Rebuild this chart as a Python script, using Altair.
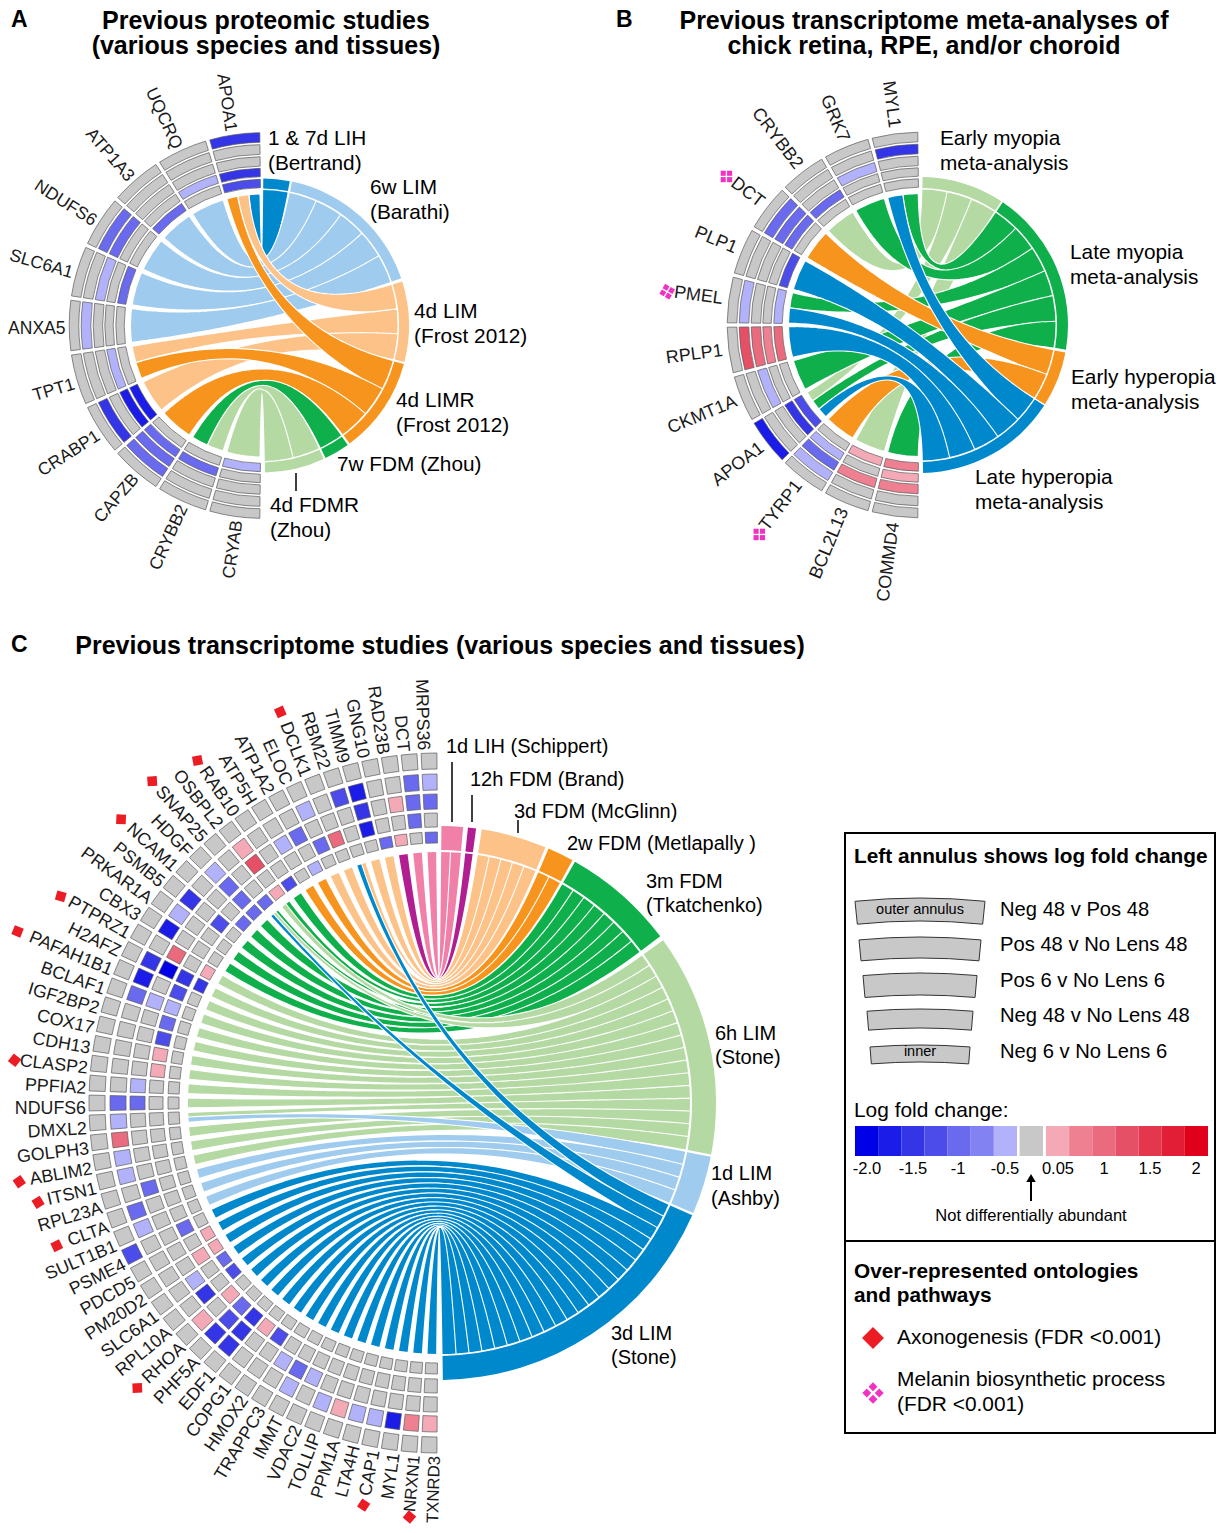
import math
import altair as alt
import pandas as pd

FONT = "Liberation Sans"

# ---- colour key: level -7..7 -------------------------------------------------
LEVEL_COLORS = {-7: "#0000e6", -6: "#1c1ce8", -5: "#3535e8", -4: "#4c4cea", -3: "#6a6aee", -2: "#8282f2", -1: "#b2b2fa",
                0: "#c8c8c8", 1: "#f4aab6", 2: "#ee8092", 3: "#ea6b7e", 4: "#e65066", 5: "#e4364c", 6: "#e21e36", 7: "#e0001c"}
BLUE, LBLUE, PEACH, ORANGE = "#0088cc", "#9fcbee", "#fdc288", "#f7941d"
GREEN, LGREEN, PINK, MAGENTA = "#0fb04b", "#b4d9a2", "#f180a8", "#b01e91"

# ---- panel A ------------------------------------------------------------------
A_genes = ["APOA1", "UQCRQ", "ATP1A3", "NDUFS6", "SLC6A1", "ANXA5", "TPT1", "CRABP1", "CAPZB", "CRYBB2", "CRYAB"]
A_levels = [[-5, 0, 0, -5, -4], [0, 0, 0, -1, 0], [0, 0, 0, 0, -3], [0, -3, -3, 0, 0], [0, 0, -1, 0, -3], [0, -1, 0, 0, 0],
            [0, 0, 0, -1, 0], [0, -5, 0, -6, -6], [0, -3, -3, -3, 0], [0, 0, 0, -3, 0], [0, 0, 0, 0, -1]]
A_links = [[0, 2, 3], [1], [1], [1], [1], [1], [2, 3], [2], [3], [4, 5], [5]]
A_study_colors = [BLUE, LBLUE, PEACH, ORANGE, GREEN, LGREEN]
A_study_spans = [(0.5, 10.9), (11.8, 71.3), (72.6, 104.4), (105.2, 143.4), (144.3, 154.4), (155.2, 178.8)]

# ---- panel B ------------------------------------------------------------------
B_genes = ["MYL1", "GRK7", "CRYBB2", "DCT", "PLP1", "PMEL", "RPLP1", "CKMT1A", "APOA1", "TYRP1", "BCL2L13", "COMMD4"]
B_levels = [[0, -5, 0, 0, 0], [0, 0, -1, 0, 0], [0, 0, 0, -3, 0], [0, -3, -3, -3, 0], [0, 0, 0, 0, -4], [0, -1, 0, 0, -1],
            [0, 4, 3, 2, 3], [0, 0, -1, 0, 0], [-6, 0, 0, -5, -4], [0, -1, -3, -1, 0], [0, 0, 2, 0, 1], [0, 0, 2, 1, 2]]
B_links = [[1, 3], [1], [0], [2], [3], [1, 3], [3], [1], [0, 1, 3], [2], [0], [1]]
B_study_colors = [LGREEN, GREEN, ORANGE, BLUE]
B_study_spans = [(1.0, 33.3), (34.0, 99.6), (100.7, 122.4), (123.0, 178.8)]

# ---- panel C ------------------------------------------------------------------
C_genes = ["MRPS36", "DCT", "RAD23B", "GNG10", "TIMM9", "RBM22", "DCLK1", "ELOC", "ATP1A2", "ATP5H", "RAB10", "OSBPL2",
           "SNAP25", "HDGF", "NCAM1", "PSMB5", "PRKAR1A", "CBX3", "PTPRZ1", "H2AFZ", "PAFAH1B1", "BCLAF1", "IGF2BP2",
           "COX17", "CDH13", "CLASP2", "PPFIA2", "NDUFS6", "DMXL2", "GOLPH3", "ABLIM2", "ITSN1", "RPL23A", "CLTA",
           "SULT1B1", "PSME4", "PDCD5", "PM20D2", "SLC6A1", "RPL10A", "RHOA", "PHF5A", "EDF1", "COPG1", "HMOX2",
           "TRAPPC3", "IMMT", "VDAC2", "TOLLIP", "PPM1A", "LTA4H", "CAP1", "MYL1", "NRXN1", "TXNRD3"]
C_levels = [[0, -1, -3, 0, -3], [0, -3, -3, -3, 0], [0, 0, 1, 0, 1], [0, 0, 0, 0, -3], [0, -6, -5, -6, 0], [0, -4, 0, 0, 0],
            [0, 0, 0, 3, 0], [0, -1, 0, -3, 0], [0, 0, -3, 0, -1], [0, 0, -1, 0, 0], [0, 0, 0, 0, -4], [0, 1, 4, 0, 1],
            [0, 0, 0, 0, -3], [0, -1, -3, -3, -3], [0, 0, 0, 0, -3], [0, -5, 0, -4, 0], [0, -1, 0, 0, 0], [0, -6, 0, 0, 0],
            [0, 0, 3, 0, 1], [0, -5, -7, -5, -5], [0, -6, 0, -4, 0], [0, -3, -1, -1, 0], [0, 0, 0, -3, 0], [0, 0, 0, -4, 0],
            [0, 0, 0, 1, 0], [0, 0, 0, 1, 0], [0, 0, -1, 0, 0], [0, -3, -3, 0, 0], [0, -1, 0, 0, 0], [0, 3, 0, 0, 0],
            [0, -1, 0, 0, 0], [0, -1, 0, 0, 0], [0, 0, -3, 0, 0], [0, -3, 0, 0, 0], [0, -1, 0, 0, 0], [-4, 0, 0, -3, 0],
            [0, 0, 0, 0, 1], [0, 0, 0, 1, 1], [0, 0, -1, 0, -3], [0, 0, -5, 0, -4], [0, 1, 0, 1, 0], [0, -5, -4, -3, 0],
            [0, -5, -5, -5, 0], [0, 0, 0, 1, 0], [0, 0, 0, -4, 0], [0, 0, -1, 0, 0], [0, -1, -3, 0, 0], [0, 0, -1, 0, 0],
            [0, -1, 0, 0, 0], [0, 1, 0, 0, 0], [0, -1, 0, 0, 0], [0, -1, 0, 0, 0], [0, -6, 0, 0, 0], [0, 2, 0, 0, 0],
            [0, 1, 0, 0, 0]]
C_links = [[0], [0], [1], [2], [2], [2, 7], [2], [2], [3], [3], [4], [4, 5], [4, 5, 7], [4], [4], [4], [4], [4]] + \
          [[5]] * 10 + [[5, 6]] + [[5]] * 3 + [[6]] * 3 + [[7]] * 20
C_study_colors = [PINK, MAGENTA, PEACH, ORANGE, GREEN, LGREEN, LBLUE, BLUE]
C_study_spans = [(0.5, 5.0), (6.0, 7.7), (8.9, 22.6), (23.3, 28.8), (29.4, 53.0), (54.0, 100.7), (101.2, 113.4), (113.9, 179.2)]

# ---- markers (gene index, distance from centre) -------------------------------
C_axon = [(6, 422), (10, 419), (12, 431), (14, 426), (18, 431), (20, 455), (25, 426.5), (30, 427), (31, 413), (33, 408),
          (40, 415), (51, 409), (53, 415)]
B_melanin = [(3, 244), (5, 255), (9, 264)]

# ---- text rows: x, y, text ----------------------------------------------------
LETTERS = [(11, 20, "A"), (616, 20, "B"), (11, 645, "C")]
CENTER_TITLES = [(266, 20.5, "Previous proteomic studies"), (266, 45.5, "(various species and tissues)"),
                 (924, 20.5, "Previous transcriptome meta-analyses of"), (924, 45.5, "chick retina, RPE, and/or choroid"),
                 (440, 646, "Previous transcriptome studies (various species and tissues)")]
BOLD_LEFT = [(854, 857, "Left annulus shows log fold change"), (854, 1272, "Over-represented ontologies"),
             (854, 1296, "and pathways")]
PANEL_AB_LABELS = [(268, 139, "1 & 7d LIH"), (268, 164, "(Bertrand)"), (370, 188, "6w LIM"), (370, 213, "(Barathi)"),
             (414, 312, "4d LIM"), (414, 337, "(Frost 2012)"), (396, 401, "4d LIMR"), (396, 426, "(Frost 2012)"),
             (337, 465, "7w FDM (Zhou)"), (270, 506, "4d FDMR"), (270, 531, "(Zhou)"),
             (940, 139, "Early myopia"), (940, 164, "meta-analysis"), (1070, 253, "Late myopia"), (1070, 278, "meta-analysis"),
             (1071, 378, "Early hyperopia"), (1071, 403, "meta-analysis"), (975, 478, "Late hyperopia"), (975, 503, "meta-analysis")]
PANEL_C_LABELS = [(446, 747, "1d LIH (Schippert)"), (470, 780, "12h FDM (Brand)"), (514, 812, "3d FDM (McGlinn)"),
             (567, 844, "2w FDM (Metlapally )"), (646, 882, "3m FDM"), (646, 906, "(Tkatchenko)"),
             (715, 1034, "6h LIM"), (715, 1058, "(Stone)"), (711, 1174, "1d LIM"), (711, 1199, "(Ashby)"),
             (611, 1334, "3d LIM"), (611, 1358, "(Stone)")]
KEY_LABELS = [(1000, 910, "Neg 48 v Pos 48"), (1000, 945, "Pos 48 v No Lens 48"), (1000, 981, "Pos 6 v No Lens 6"),
             (1000, 1016, "Neg 48 v No Lens 48"), (1000, 1052, "Neg 6 v No Lens 6")]
ONTOLOGY_LABELS = [(854, 1111, "Log fold change:"), (897, 1338, "Axonogenesis (FDR <0.001)"),
             (897, 1380, "Melanin biosynthetic process"), (897, 1405, "(FDR <0.001)")]
TICK_TEXT = [(867, "-2.0"), (913, "-1.5"), (958, "-1"), (1005, "-0.5"), (1058, "0.05"), (1104, "1"), (1150, "1.5"), (1196, "2")]
SMALL_CENTER = [(920, 910, "outer annulus"), (920, 1052, "inner")]
NOTE_TEXT = [(1031, 1216, "Not differentially abundant")]
LEADERS = [(296, 473, 491), (452, 762, 822), (472, 795, 822), (518, 820, 833)]
SWATCHES = [(898, 23, 65), (937, 21, 61), (973, 22, 57), (1009, 19, 53), (1045, 17, 50)]
BOXES = [(845, 833, 1215, 1241), (845, 1241, 1215, 1433)]

# ---- panel geometry ------------------------------------------------------------
PANELS = [
    dict(genes=A_genes, levels=A_levels, links=A_links, scol=A_study_colors, span=A_study_spans, cx=262, cy=325.5,
         rings=[(192.8, 183.2), (180.8, 171.2), (168.8, 159.4), (157.2, 148.8), (146.2, 137.8)], band=(137, 147), rg=131, rs=135.5,
         gap=2.2, split=0.6, cellgap=1.3, lab=196.5, fs=17.5, shift=3.5),
    dict(genes=B_genes, levels=B_levels, links=B_links, scol=B_study_colors, span=B_study_spans, cx=920, cy=325,
         rings=[(192.8, 183.2), (180.8, 171.2), (168.8, 159.4), (157.2, 148.8), (146.2, 137.8)], band=(137, 148), rg=131, rs=135.5,
         gap=2.0, split=0.5, cellgap=1.3, lab=199, fs=18, shift=0),
    dict(genes=C_genes, levels=C_levels, links=C_links, scol=C_study_colors, span=C_study_spans, cx=439, cy=1103,
         rings=[(350, 334), (329, 313), (309, 294), (290, 276), (271, 260)], band=(253, 277), rg=251, rs=251,
         gap=1.3, split=0.12, cellgap=0.68, lab=353, fs=17.8, shift=6),
]
TIGHT_LABELS = {"NRXN1": 16.8, "TXNRD3": 16.8}


def pt(p, phi, r):
    a = math.radians(phi)
    return p["cx"] + r * math.sin(a), p["cy"] - r * math.cos(a)


def label_pt(p, th, r):
    x, y = pt(p, -th, r)
    a = math.radians(th)
    return x - p["shift"] * math.cos(a), y + p["shift"] * math.sin(a)


def bez(p0, p2, c, t):
    return ((1 - t) ** 2 * p0[0] + 2 * t * (1 - t) * c[0] + t * t * p2[0],
            (1 - t) ** 2 * p0[1] + 2 * t * (1 - t) * c[1] + t * t * p2[1])


trail_rows, band_rows, cell_rows, mask_rows, gene_text = [], [], [], [], []
cid = 0
for pi, p in enumerate(PANELS):
    n = len(p["genes"])
    w = 180.0 / n
    parts = []
    for s in range(len(p["scol"])):
        parts.append([])
    gene_parts = {}
    for g, links in enumerate(p["links"]):
        a = g * w + p["gap"] / 2
        b = (g + 1) * w - p["gap"] / 2
        k = len(links)
        each = (b - a - p["split"] * (k - 1)) / k
        for j, s in enumerate(links):
            a0 = a + j * (each + p["split"])
            gene_parts[(g, s)] = (a0, a0 + each)
            parts[s].append(g)
    c = (p["cx"], p["cy"])
    for s, gs in enumerate(parts):
        sa, sb = p["span"][s]
        sw = (sb - sa) / len(gs)
        band_rows.append(dict(x=p["cx"], y=p["cy"], t0=math.radians(sa), t1=math.radians(sb), r0=p["band"][1], r1=p["band"][0], c=p["scol"][s]))
        for q, g in enumerate(gs):
            a0, a1 = gene_parts[(g, s)]
            b0, b1 = sa + q * sw, sa + (q + 1) * sw
            P1, Q1 = pt(p, -a0, p["rg"]), pt(p, b0, p["rs"])
            P2, Q2 = pt(p, -a1, p["rg"]), pt(p, b1, p["rs"])
            pts = []
            N = 44
            for i in range(N + 1):
                t = i / N
                e1, e2 = bez(P1, Q1, c, t), bez(P2, Q2, c, t)
                mx, my = (e1[0] + e2[0]) / 2, (e1[1] + e2[1]) / 2
                dt = 0.002
                ta = bez(P1, Q1, c, min(t + dt, 1)), bez(P2, Q2, c, min(t + dt, 1))
                tb = bez(P1, Q1, c, max(t - dt, 0)), bez(P2, Q2, c, max(t - dt, 0))
                tx = (ta[0][0] + ta[1][0] - tb[0][0] - tb[1][0])
                ty = (ta[0][1] + ta[1][1] - tb[0][1] - tb[1][1])
                L = math.hypot(tx, ty) or 1
                ddx, ddy = e1[0] - e2[0], e1[1] - e2[1]
                pts.append((mx, my, abs(ddx * ty - ddy * tx) / L))
            wa, wb = pts[0][2], pts[-1][2]
            s0 = pt(p, -(a0 + a1) / 2, p["rg"] + wa / 2 + 3)
            s1 = pt(p, (b0 + b1) / 2, p["rs"] + wb / 2 + 3)
            pts = [(s0[0], s0[1], wa)] + pts + [(s1[0], s1[1], wb)]
            halo = 2.2
            for kind, col, add in (("h", "#ffffff", halo), ("c", p["scol"][s], 0)):
                for k, (x, y, sz) in enumerate(pts):
                    trail_rows.append(dict(x=x, y=y, w=sz + add, c=col, id=f"{cid:04d}{kind}", k=k))
                cid += 1
    # white ring that trims the chord ends
    mask_rows.append(dict(x=p["cx"], y=p["cy"], t0=math.radians(-1), t1=math.radians(181), r0=p["rs"] + 46, r1=p["rs"], c="#ffffff"))
    mask_rows.append(dict(x=p["cx"], y=p["cy"], t0=math.radians(180), t1=math.radians(360), r0=p["rg"] + 46, r1=p["rg"], c="#ffffff"))
    for g, name in enumerate(p["genes"]):
        th0, th1 = g * w + p["cellgap"] / 2, (g + 1) * w - p["cellgap"] / 2
        for ring, lev in zip(p["rings"], p["levels"][g]):
            cell_rows.append(dict(x=p["cx"], y=p["cy"], t0=math.radians(360 - th1), t1=math.radians(360 - th0),
                                  r0=ring[0], r1=ring[1], c=LEVEL_COLORS[lev]))
        mid = (g + .5) * w
        lx, ly = label_pt(p, mid, p["lab"])
        fs = TIGHT_LABELS.get(name, p["fs"]) if pi == 2 else p["fs"]
        gene_text.append(dict(x=lx, y=ly, text=name, angle=(90 - mid) % 360, fs=fs))

xs = alt.Scale(domain=[8, 1216], range=[0, 1208], nice=False, zero=False)
ys = alt.Scale(domain=[8, 1525], range=[0, 1517], nice=False, zero=False)
X = alt.X("x:Q", scale=xs, axis=None)
Y = alt.Y("y:Q", scale=ys, axis=None)
FILL = alt.Color("c:N", scale=None, legend=None)


def arcs(rows, **mk):
    return alt.Chart(pd.DataFrame(rows)).mark_arc(**mk).encode(
        x=X, y=Y, theta=alt.Theta("t0:Q", scale=None), theta2="t1:Q",
        radius=alt.Radius("r0:Q", scale=None), radius2="r1:Q", color=FILL)


def texts(rows, size, align="left", bold=False, color="#000000"):
    df = pd.DataFrame(rows, columns=["x", "y", "text"])
    return alt.Chart(df).mark_text(font=FONT, fontSize=size, align=align, baseline="middle",
                                   fontWeight="bold" if bold else "normal", color=color).encode(x=X, y=Y, text="text:N")


layers = []
layers.append(alt.Chart(pd.DataFrame(trail_rows)).mark_trail().encode(
    x=X, y=Y, size=alt.Size("w:Q", scale=None, legend=None), color=FILL, detail="id:N", order="k:Q"))
layers.append(arcs(mask_rows))
layers.append(arcs(band_rows))
layers.append(arcs(cell_rows, stroke="#5a5a5a", strokeWidth=0.7))

# legend annulus swatches
R = 640
sw_rows = []
for top, h, hw in SWATCHES:
    da = math.asin(hw / R)
    sw_rows.append(dict(x=920, y=top + R, t0=2 * math.pi - da, t1=2 * math.pi + da, r0=R, r1=R - h, c="#c8c8c8"))
layers.append(arcs(sw_rows, stroke="#333333", strokeWidth=1))

# colour bar
bar_rows = []
x0 = 855.0
cw = 23.14
for i, lev in enumerate(range(-7, 0)):
    bar_rows.append(dict(x=x0 + i * cw, x2=x0 + (i + 1) * cw, c=LEVEL_COLORS[lev]))
bar_rows.append(dict(x=1019.6, x2=1043, c=LEVEL_COLORS[0]))
x0 = 1046.0
for i, lev in enumerate(range(1, 8)):
    bar_rows.append(dict(x=x0 + i * cw, x2=x0 + (i + 1) * cw, c=LEVEL_COLORS[lev]))
bar = pd.DataFrame(bar_rows)
bar["y"], bar["y2"] = 1126, 1156
layers.append(alt.Chart(bar).mark_rect().encode(x=X, x2="x2:Q", y=Y, y2="y2:Q", color=FILL))

# gene labels
layers.append(alt.Chart(pd.DataFrame(gene_text)).mark_text(font=FONT, align="right", baseline="middle", color="#1a1a1a").encode(
    x=X, y=Y, text="text:N", angle=alt.Angle("angle:Q", scale=None), size=alt.Size("fs:Q", scale=None, legend=None)))

# titles and labels
layers.append(texts(LETTERS, 23, bold=True))
layers.append(texts(CENTER_TITLES, 25, align="center", bold=True))
layers.append(texts(BOLD_LEFT, 20.8, bold=True))
layers.append(texts(PANEL_AB_LABELS, 20.8))
layers.append(texts(PANEL_C_LABELS, 20))
layers.append(texts(KEY_LABELS, 20.2))
layers.append(texts(ONTOLOGY_LABELS, 20.9))
layers.append(texts([(x, 1169, t) for x, t in TICK_TEXT], 16.5, align="center"))
layers.append(texts(SMALL_CENTER, 14.5, align="center"))
layers.append(texts(NOTE_TEXT, 16.5, align="center"))

# leader lines
layers.append(alt.Chart(pd.DataFrame(LEADERS, columns=["x", "y", "y2"])).mark_rule(color="black", strokeWidth=1.5).encode(x=X, y=Y, y2="y2:Q"))

# legend boxes
layers.append(alt.Chart(pd.DataFrame(BOXES, columns=["x", "y", "x2", "y2"])).mark_rect(fillOpacity=0, stroke="black", strokeWidth=2).encode(
    x=X, y=Y, x2="x2:Q", y2="y2:Q"))

# arrow
layers.append(alt.Chart(pd.DataFrame([dict(x=1031, y=1201, y2=1180)])).mark_rule(color="black", strokeWidth=2).encode(x=X, y=Y, y2="y2:Q"))
layers.append(alt.Chart(pd.DataFrame([dict(x=1031, y=1178)])).mark_point(shape="triangle-up", filled=True, color="black", size=90, opacity=1).encode(x=X, y=Y))

# axonogenesis markers
pm = PANELS[2]
wC = 180.0 / len(C_genes)
ax_rows = []
for g, r in C_axon:
    th = (g + .5) * wC
    x, y = label_pt(pm, th, r)
    ax_rows.append(dict(x=x, y=y, a=(th - 135) % 90, s=92))
ax_rows.append(dict(x=873, y=1338, a=45, s=240))
layers.append(alt.Chart(pd.DataFrame(ax_rows)).mark_point(shape="square", filled=True, color="#ec1c24", opacity=1).encode(
    x=X, y=Y, angle=alt.Angle("a:Q", scale=None), size=alt.Size("s:Q", scale=None, legend=None)))

# melanin markers: four small squares
pm = PANELS[1]
wB = 15.0
centres = []
for g, r in B_melanin:
    th = (g + .5) * wB
    x, y = pt(pm, -th, r)
    centres.append((x, y, th - 52.5, 3.2, 26))
centres.append((873, 1393, 45, 4.4, 40))
mel_rows = []
for x, y, rot, off, sz in centres:
    a = math.radians(rot)
    for ox, oy in ((-off, -off), (off, -off), (-off, off), (off, off)):
        mel_rows.append(dict(x=x + ox * math.cos(a) - oy * math.sin(a), y=y + ox * math.sin(a) + oy * math.cos(a), a=rot % 90, s=sz))
layers.append(alt.Chart(pd.DataFrame(mel_rows)).mark_point(shape="square", filled=True, color="#f032c4", opacity=1).encode(
    x=X, y=Y, angle=alt.Angle("a:Q", scale=None), size=alt.Size("s:Q", scale=None, legend=None)))

chart = alt.layer(*layers).properties(width=1208, height=1517, padding=0, autosize=alt.AutoSizeParams(type="none"), background="white"
    ).configure_view(stroke=None)
chart.save("out.html", embed_options={"renderer": "svg", "actions": False})
